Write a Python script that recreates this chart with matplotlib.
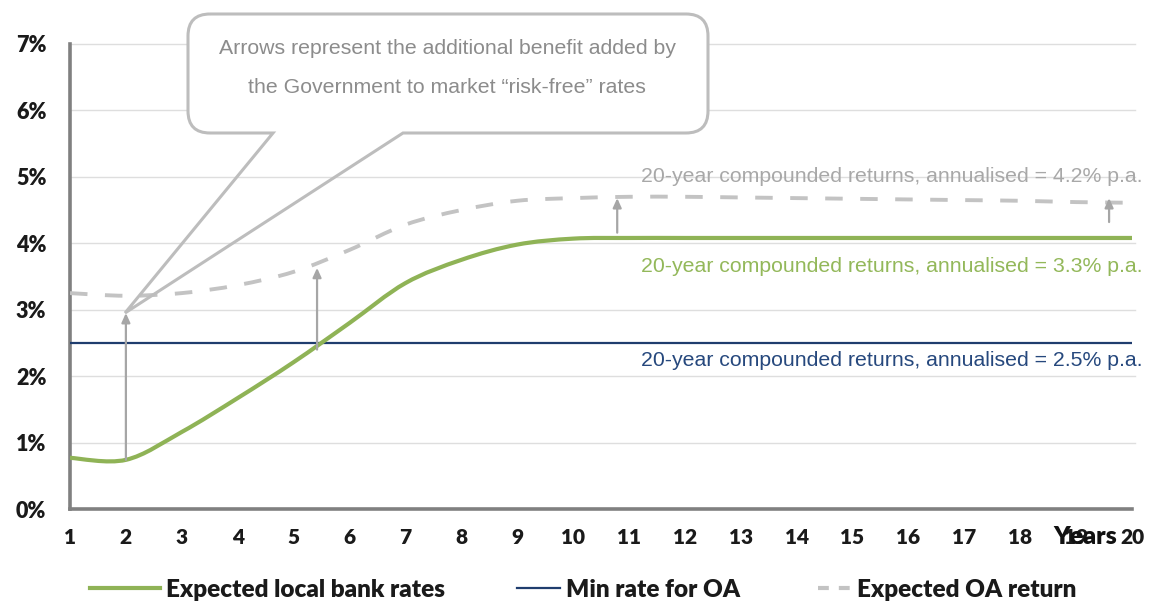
import numpy as np
import matplotlib
matplotlib.use("Agg")
import matplotlib.pyplot as plt
from matplotlib.path import Path
from matplotlib.patches import PathPatch
from matplotlib.transforms import IdentityTransform
from matplotlib.lines import Line2D

# ---------------- data ----------------
years = list(range(1, 21))
bank_rates = [0.77, 0.74, 1.16, 1.67, 2.21, 2.80, 3.40, 3.75, 3.98, 4.07,
              4.08, 4.08, 4.08, 4.08, 4.08, 4.08, 4.08, 4.08, 4.08, 4.08]
oa_return = [3.25, 3.21, 3.25, 3.37, 3.57, 3.90, 4.28, 4.50, 4.64, 4.68,
             4.70, 4.70, 4.69, 4.68, 4.67, 4.66, 4.65, 4.64, 4.62, 4.61]
min_rate = 2.5
y_ticks = [0, 1, 2, 3, 4, 5, 6, 7]
y_tick_labels = ["0%", "1%", "2%", "3%", "4%", "5%", "6%", "7%"]
# benefit arrows: (year, from %, to %)
arrow_x = [2.0, 5.42, 10.79, 19.59]
arrow_from = [0.74, 2.40, 4.16, 4.32]
arrow_to = [2.95, 3.63, 4.68, 4.68]
label_oa = "20-year compounded returns, annualised = 4.2% p.a."
label_bank = "20-year compounded returns, annualised = 3.3% p.a."
label_min = "20-year compounded returns, annualised = 2.5% p.a."
callout_text = "Arrows represent the additional benefit added by\nthe Government to market \u201crisk-free\u201d rates"
legend_labels = ["Expected local bank rates", "Min rate for OA", "Expected OA return"]

GREEN = "#8fb356"
BLUE = "#1f3d6e"
DGRAY = "#c3c3c3"
AGRAY = "#a6a6a6"
TXTGRAY = "#8c8c8c"
BOLD_FONT = ["Lato", "DejaVu Sans"]
TXT_FONT = ["Liberation Sans", "DejaVu Sans"]


def smooth_path(xs, ys):
    """Catmull-Rom style smoothing rendered as cubic Bezier segments."""
    xs = np.asarray(xs, float)
    ys = np.asarray(ys, float)
    n = len(xs)
    verts = [(xs[0], ys[0])]
    codes = [Path.MOVETO]
    for i in range(n - 1):
        p0 = (xs[max(i - 1, 0)], ys[max(i - 1, 0)])
        p1 = (xs[i], ys[i])
        p2 = (xs[i + 1], ys[i + 1])
        p3 = (xs[min(i + 2, n - 1)], ys[min(i + 2, n - 1)])
        c1 = (p1[0] + (p2[0] - p0[0]) / 6, p1[1] + (p2[1] - p0[1]) / 6)
        c2 = (p2[0] - (p3[0] - p1[0]) / 6, p2[1] - (p3[1] - p1[1]) / 6)
        verts += [c1, c2, p2]
        codes += [Path.CURVE4] * 3
    return Path(verts, codes)


fig = plt.figure(figsize=(11.5, 6.01), dpi=100)
ax = fig.add_axes([70 / 1150, 1 - 509 / 601, (1132 - 70) / 1150, (509 - 44) / 601])
ax.set_xlim(1, 20)
ax.set_ylim(0, 7)

# grid
for t in y_ticks[1:]:
    ax.axhline(t, color="#dedede", lw=1.0, zorder=0, xmax=1.003, clip_on=False)

# lines
ax.add_patch(PathPatch(smooth_path(years, oa_return), fill=False, edgecolor=DGRAY,
                       lw=2.8, linestyle=(0, (4.5, 4.5)), zorder=3, capstyle="butt"))
ax.axhline(min_rate, color=BLUE, lw=1.6, zorder=3)
ax.add_patch(PathPatch(smooth_path(years, bank_rates), fill=False, edgecolor=GREEN,
                       lw=3.0, zorder=4, capstyle="round"))

# arrows
for xa, y0, y1 in zip(arrow_x, arrow_from, arrow_to):
    ax.annotate("", xy=(xa, y1), xytext=(xa, y0),
                arrowprops=dict(arrowstyle="-|>,head_length=0.55,head_width=0.25",
                                color=AGRAY, lw=1.6, shrinkA=0, shrinkB=0), zorder=5)

# spines
for s in ["top", "right"]:
    ax.spines[s].set_visible(False)
ax.spines["left"].set_color("#808080")
ax.spines["left"].set_linewidth(2.6)
ax.spines["bottom"].set_color("#808080")
ax.spines["bottom"].set_linewidth(2.6)

ax.set_yticks(y_ticks)
ax.set_yticklabels(y_tick_labels, fontsize=15.5, fontweight="heavy", family=BOLD_FONT, color="#1a1a1a")
ax.set_xticks(years)
ax.set_xticklabels([str(y) for y in years], fontsize=15, fontweight="heavy", family=BOLD_FONT, color="#1a1a1a")
ax.tick_params(axis="both", length=0)
ax.tick_params(axis="y", pad=17)
ax.tick_params(axis="x", pad=14)

# series annotations
ax.text(1.0095, 5.0, label_oa, transform=ax.get_yaxis_transform(), ha="right", va="center",
        fontsize=15.3, color="#a8a8a8", family=TXT_FONT)
ax.text(1.0095, 3.65, label_bank, transform=ax.get_yaxis_transform(), ha="right", va="center",
        fontsize=15.3, color="#93b85a", family=TXT_FONT)
ax.text(1.0095, 2.24, label_min, transform=ax.get_yaxis_transform(), ha="right", va="center",
        fontsize=15.3, color="#26487d", family=TXT_FONT)

fig.text(1085 / 1150, 1 - 537 / 601, "Years", ha="center", va="center", fontsize=18,
         fontweight="heavy", family=BOLD_FONT, color="#111111")

# callout (pixel coordinates, y measured from top)
H = 601
L, R, T, B, r = 188, 708, 14, 133, 22
a, b, tip = 273, 403, (125, 313)
def P(x, y):
    return (x, H - y)
box_verts = [P(L + r, T), P(R - r, T), P(R, T), P(R, T + r), P(R, B - r), P(R, B), P(R - r, B),
             P(L + r, B), P(L, B), P(L, B - r), P(L, T + r), P(L, T), P(L + r, T)]
box_codes = [Path.MOVETO, Path.LINETO, Path.CURVE3, Path.CURVE3, Path.LINETO, Path.CURVE3, Path.CURVE3,
             Path.LINETO, Path.CURVE3, Path.CURVE3, Path.LINETO, Path.CURVE3, Path.CURVE3]
fig.patches.append(PathPatch(Path(box_verts, box_codes), facecolor="white", edgecolor="none",
                             transform=IdentityTransform(), zorder=6))
out_verts = [P(L + r, T), P(R - r, T), P(R, T), P(R, T + r), P(R, B - r), P(R, B), P(R - r, B),
             P(b, B), P(*tip), P(a, B),
             P(L + r, B), P(L, B), P(L, B - r), P(L, T + r), P(L, T), P(L + r, T)]
out_codes = [Path.MOVETO, Path.LINETO, Path.CURVE3, Path.CURVE3, Path.LINETO, Path.CURVE3, Path.CURVE3,
             Path.LINETO, Path.LINETO, Path.LINETO,
             Path.LINETO, Path.CURVE3, Path.CURVE3, Path.LINETO, Path.CURVE3, Path.CURVE3]
fig.patches.append(PathPatch(Path(out_verts, out_codes), facecolor="none", edgecolor="#bdbdbd",
                             lw=2.2, joinstyle="miter", transform=IdentityTransform(), zorder=7))
fig.text(447 / 1150, 1 - 68 / H, callout_text, ha="center", va="center", fontsize=15.3,
         color=TXTGRAY, family=TXT_FONT, linespacing=2.3, zorder=8)

# legend: three entries, each with its own handle length (as in the source)
handles = [Line2D([], [], color=GREEN, lw=3.0),
           Line2D([], [], color=BLUE, lw=1.6),
           Line2D([], [], color=DGRAY, lw=3.0, linestyle=(0, (2.6, 2.4)))]
leg_x = [90, 517, 818]
leg_len = [2.88, 1.77, 1.32]
leg_pad = [0.25, 0.25, 0.3]
for h, lab, lx, hl, tp in zip(handles, legend_labels, leg_x, leg_len, leg_pad):
    lg = fig.legend([h], [lab], loc="center left", bbox_to_anchor=(lx / 1150, 1 - 590 / 601),
                    frameon=False, handlelength=hl, handletextpad=tp, borderpad=0,
                    borderaxespad=0, prop=dict(family=BOLD_FONT, weight="heavy", size=17.5))
    for t in lg.get_texts():
        t.set_color("#1a1a1a")

fig.savefig("out.png", dpi=100)
